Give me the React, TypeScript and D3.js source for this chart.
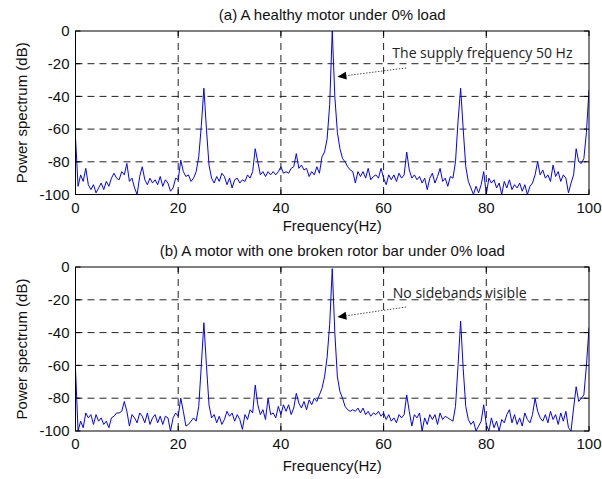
import * as d3 from "d3";

// frequency grid 0..100 Hz, 0.5 Hz step
const freqs: number[] = Array.from({ length: 201 }, (_, i) => i * 0.5);

// (a) healthy motor, dB
const healthy: number[] = [
  -65, -95, -88, -92, -84, -94, -97, -94, -99, -96, -93, -97, -92, -95, -90, -87, -90, -91, -86, -88,
  -81, -92, -90, -96, -100, -89, -83, -91, -94, -90, -93, -91, -94, -89, -95, -91, -93, -98, -96, -90,
  -91, -79, -86, -89, -88, -92, -90, -86, -77, -58, -35, -60, -82, -90, -93, -89, -92, -87, -89, -94,
  -90, -96, -91, -90, -93, -91, -92, -88, -90, -86, -72, -80, -88, -86, -89, -86, -88, -86, -88, -86,
  -83, -87, -86, -87, -84, -83, -75, -84, -82, -85, -84, -89, -86, -88, -83, -87, -77, -74, -66, -45,
  0, -40, -62, -72, -78, -80, -83, -85, -86, -93, -86, -89, -86, -90, -84, -91, -89, -88, -90, -84,
  -90, -94, -88, -91, -88, -92, -87, -90, -88, -74, -85, -90, -88, -91, -89, -93, -90, -97, -90, -87,
  -93, -89, -84, -92, -90, -95, -89, -90, -80, -55, -35, -60, -83, -92, -96, -100, -95, -99, -94, -86,
  -100, -90, -93, -91, -96, -93, -100, -92, -96, -91, -97, -94, -96, -93, -98, -94, -100, -95, -93, -88,
  -80, -88, -85, -90, -88, -92, -82, -89, -86, -92, -88, -90, -99, -93, -88, -72, -80, -81, -78, -62,
  -36,
];

// (b) one broken rotor bar, dB
const broken: number[] = [
  -62, -100, -94, -98, -89, -92, -90, -96, -90, -94, -92, -96, -94, -98, -92, -91, -89, -89, -88, -82,
  -88, -97, -90, -92, -95, -89, -91, -95, -89, -96, -92, -90, -95, -91, -96, -91, -92, -100, -92, -89,
  -91, -80, -88, -97, -96, -94, -92, -94, -85, -60, -34, -60, -84, -92, -90, -95, -91, -96, -93, -88,
  -91, -89, -94, -90, -93, -99, -90, -93, -87, -89, -72, -84, -90, -87, -93, -80, -90, -89, -92, -85,
  -90, -84, -88, -84, -90, -86, -77, -83, -86, -82, -87, -81, -84, -80, -82, -78, -74, -67, -55, -35,
  -1, -40, -67, -76, -80, -85, -87, -88, -87, -88, -86, -89, -86, -90, -88, -91, -89, -90, -88, -91,
  -89, -93, -90, -94, -92, -95, -90, -92, -90, -78, -88, -97, -90, -92, -89, -100, -92, -96, -90, -93,
  -90, -96, -89, -93, -91, -92, -93, -94, -85, -60, -33, -62, -85, -93, -96, -94, -100, -97, -94, -84,
  -96, -100, -92, -98, -94, -100, -93, -95, -90, -87, -95, -90, -96, -92, -97, -89, -93, -95, -90, -80,
  -88, -92, -94, -90, -95, -88, -93, -90, -96, -89, -94, -88, -98, -100, -86, -73, -82, -80, -78, -60,
  -37,
];

const xTicks = [0, 20, 40, 60, 80, 100];
const yTicks = [0, -20, -40, -60, -80, -100];

const titles = [
  "(a) A healthy motor under 0% load",
  "(b) A motor with one broken rotor bar under 0% load",
];
const notes = ["The supply frequency 50 Hz", "No sidebands visible"];
// note text position and arrow start/end in data units [f, dB]
const noteText: [number, number][] = [[61.7, -16.5], [61.8, -18.6]];
const arrowFrom: [number, number][] = [[64.4, -22.6], [64.4, -24.4]];
const arrowTo: [number, number][] = [[51, -28], [51, -30.5]];

const W = 602;
const H = 479;
const font = "'Liberation Sans', Arial, Helvetica, sans-serif";
const fs = 15;

function Panel({
  idx, top, bottom, data, xLabelGap,
}: { idx: number; top: number; bottom: number; data: number[]; xLabelGap: number }) {
  const x = d3.scaleLinear().domain([0, 100]).range([75.5, 589]);
  const y = d3.scaleLinear().domain([-100, 0]).range([bottom, top]);
  const line = d3
    .line<number>()
    .x((_, i) => x(freqs[i]))
    .y((d) => y(d));
  const [x0, x1] = x.range();
  const clipId = `clip${idx}`;
  const tl = 5;

  const [ax, ay] = arrowFrom[idx];
  const [bx, by] = arrowTo[idx];
  const sx = x(ax), sy = y(ay), ex = x(bx), ey = y(by);
  const ang = Math.atan2(ey - sy, ex - sx);
  const hl = 9, hw = 4;
  const hx = ex - hl * Math.cos(ang), hy = ey - hl * Math.sin(ang);
  const head = [
    [ex, ey],
    [hx + hw * Math.sin(ang), hy - hw * Math.cos(ang)],
    [hx - hw * Math.sin(ang), hy + hw * Math.cos(ang)],
  ];

  return (
    <g>
      <defs>
        <clipPath id={clipId}>
          <rect x={x0} y={top} width={x1 - x0} height={bottom - top} />
        </clipPath>
      </defs>
      <rect x={x0} y={top} width={x1 - x0} height={bottom - top} fill="#fff" />
      {/* grid */}
      {xTicks.slice(1, -1).map((t) => (
        <line key={"gx" + t} x1={x(t)} x2={x(t)} y1={top} y2={bottom} stroke="#222" strokeDasharray="7,5" strokeWidth={1} />
      ))}
      {yTicks.slice(1, -1).map((t) => (
        <line key={"gy" + t} x1={x0} x2={x1} y1={y(t)} y2={y(t)} stroke="#222" strokeDasharray="7,5" strokeWidth={1} />
      ))}
      <path d={line(data) ?? ""} fill="none" stroke="#0000ff" strokeWidth={1} clipPath={`url(#${clipId})`} />
      {/* ticks */}
      {xTicks.map((t) => (
        <g key={"tx" + t}>
          <line x1={x(t)} x2={x(t)} y1={bottom} y2={bottom - tl} stroke="#000" />
          <line x1={x(t)} x2={x(t)} y1={top} y2={top + tl} stroke="#000" />
          <text x={x(t)} y={bottom + 18} textAnchor="middle" fontSize={fs} fontFamily={font} fill="#111">
            {t}
          </text>
        </g>
      ))}
      {yTicks.map((t) => (
        <g key={"ty" + t}>
          <line x1={x0} x2={x0 + tl} y1={y(t)} y2={y(t)} stroke="#000" />
          <line x1={x1} x2={x1 - tl} y1={y(t)} y2={y(t)} stroke="#000" />
          <text x={x0 - 6} y={y(t)} dy="0.35em" textAnchor="end" fontSize={fs} fontFamily={font} fill="#111">
            {t}
          </text>
        </g>
      ))}
      <rect x={x0} y={top} width={x1 - x0} height={bottom - top} fill="none" stroke="#000" strokeWidth={1} />
      {/* title and labels */}
      <text x={(x0 + x1) / 2} y={top - 11} textAnchor="middle" fontSize={fs} fontFamily={font} fill="#111">
        {titles[idx]}
      </text>
      <text x={(x0 + x1) / 2} y={bottom + xLabelGap} textAnchor="middle" fontSize={fs} fontFamily={font} fill="#111">
        Frequency(Hz)
      </text>
      <text
        transform={`translate(27,${(top + bottom) / 2}) rotate(-90)`}
        textAnchor="middle"
        fontSize={fs}
        fontFamily={font}
        fill="#111"
      >
        Power spectrum (dB)
      </text>
      {/* annotation */}
      <text x={x(noteText[idx][0])} y={y(noteText[idx][1])} fontSize={14} fontFamily="'Open Sans', sans-serif" fill="#222">
        {notes[idx]}
      </text>
      <line x1={sx} y1={sy} x2={hx} y2={hy} stroke="#222" strokeWidth={0.8} strokeDasharray="1.5,1.5" />
      <polygon points={head.map((p) => p.join(",")).join(" ")} fill="#000" />
    </g>
  );
}

export default function App() {
  return (
    <svg
      width={W}
      height={H}
      style={{ position: "absolute", left: 0, top: 0, background: "#fff" }}
    >
      <Panel idx={0} top={31} bottom={194.5} data={healthy} xLabelGap={36} />
      <Panel idx={1} top={267} bottom={431} data={broken} xLabelGap={40} />
    </svg>
  );
}
